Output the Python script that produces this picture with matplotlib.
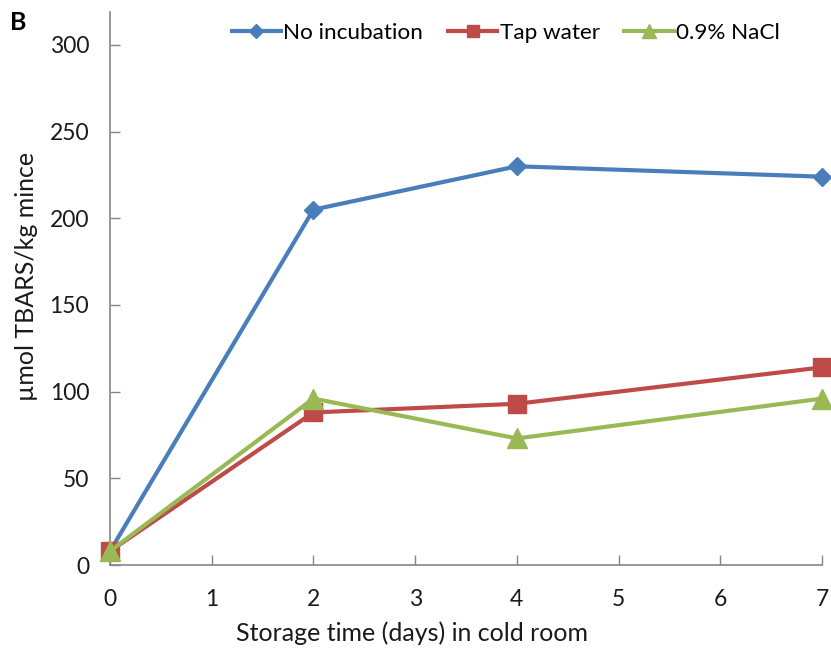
import matplotlib.pyplot as plt

days = [0, 2, 4, 7]
no_incubation = [8, 205, 230, 224]
tap_water = [8, 88, 93, 114]
nacl = [8, 96, 73, 96]

plt.rcParams['font.family'] = ['Lato', 'DejaVu Sans']

fig = plt.figure(figsize=(8.31, 6.48), dpi=100)
ax = fig.add_axes([110 / 831, 1 - 565 / 648, 712 / 831, 553 / 648])

ax.plot(days, no_incubation, color='#4A7EBB', linewidth=3, marker='D',
        markersize=9.5, clip_on=False, label='No incubation', zorder=3)
ax.plot(days, tap_water, color='#BE4B48', linewidth=3, marker='s',
        markersize=13, clip_on=False, label='Tap water', zorder=3)
ax.plot(days, nacl, color='#98B954', linewidth=3, marker='^',
        markersize=14, clip_on=False, label='0.9% NaCl', zorder=4)

ax.set_xlim(0, 7)
ax.set_ylim(0, 319)
ax.set_xticks(range(0, 8))
ax.set_yticks(range(0, 301, 50))

for side in ['top', 'right']:
    ax.spines[side].set_visible(False)
for side in ['left', 'bottom']:
    ax.spines[side].set_color('#868686')
    ax.spines[side].set_linewidth(1.2)

ax.tick_params(direction='in', length=7, width=1, color='#868686',
               labelsize=16.5, labelcolor='#1a1a1a')
ax.tick_params(axis='x', pad=17)
ax.tick_params(axis='y', pad=15)

# axis titles placed by hand (they sit off-centre in the original)
fig.text(412 / 831, 1 - 633 / 648, 'Storage time (days) in cold room',
         fontsize=18, ha='center', va='center', color='#1a1a1a')
fig.text(27 / 831, 1 - 276 / 648, 'µmol TBARS/kg mince', fontsize=18,
         rotation=90, ha='center', va='center', color='#1a1a1a')

ax.legend(loc='center', bbox_to_anchor=(0.556, 1 - 21 / 553), ncol=3, frameon=False,
          fontsize=16.2, handlelength=2.2, columnspacing=1.1, handletextpad=0.1,
          markerscale=0.7)

fig.text(10 / 831, 1 - 22 / 648, 'B', fontsize=18, fontweight='bold', va='center')

fig.savefig('out.png', dpi=100)
